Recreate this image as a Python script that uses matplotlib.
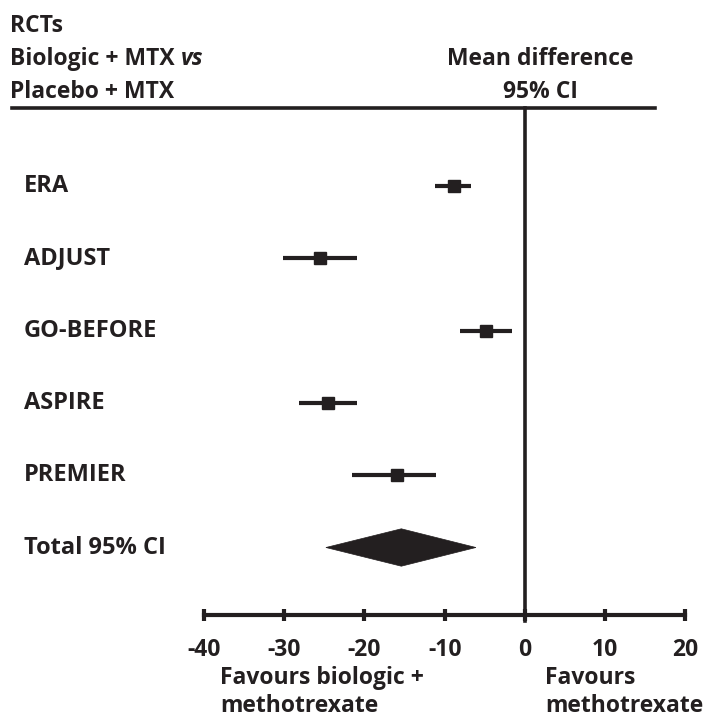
import matplotlib
matplotlib.use("Agg")
import matplotlib.pyplot as plt
from matplotlib.lines import Line2D
from matplotlib.patches import Polygon

# ---- data ----
studies = ["ERA", "ADJUST", "GO-BEFORE", "ASPIRE", "PREMIER"]
mean_diff = [-8.8, -25.5, -4.8, -24.5, -16.0]
ci_low = [-11.2, -30.1, -8.1, -28.2, -21.5]
ci_high = [-6.7, -20.9, -1.6, -20.9, -11.1]
total_label = "Total 95% CI"
total_mean = -15.4
total_low = -24.8
total_high = -6.1
xticks = [-40, -30, -20, -10, 0, 10, 20]

W, H = 703, 720
FONT = "Open Sans"
FS = 16.5
COL = "#231f20"

fig = plt.figure(figsize=(W / 100, H / 100), dpi=100)
fig.patch.set_facecolor("white")

def fy(px):
    return 1 - px / H

def fx(px):
    return px / W

ax_top, ax_bot = 108, 615
ax = fig.add_axes([0, fy(ax_bot), 1, fy(ax_top) - fy(ax_bot)])
ppu = (685.3 - 204) / 60.0
x_left = -40 - 204 / ppu
x_right = x_left + W / ppu
ax.set_xlim(x_left, x_right)
row0, rowsp = 186, 72.3
ax.set_ylim((ax_bot - row0) / rowsp, (ax_top - row0) / rowsp)

for s in ["top", "right", "left"]:
    ax.spines[s].set_visible(False)
ax.spines["bottom"].set_bounds(xticks[0], xticks[-1])
ax.spines["bottom"].set_linewidth(3)
ax.spines["bottom"].set_color(COL)
ax.set_yticks([])
ax.set_xticks(xticks)
ax.set_xticklabels([str(t) for t in xticks])
ax.tick_params(axis="x", direction="inout", length=9, width=3, color=COL,
               pad=12, labelsize=FS, labelcolor=COL)
for lab in ax.get_xticklabels():
    lab.set_fontfamily(FONT)
    lab.set_fontweight("bold")

rows = list(range(len(studies)))
xerr = [[m - l for m, l in zip(mean_diff, ci_low)],
        [h - m for m, h in zip(mean_diff, ci_high)]]
ax.errorbar(mean_diff, rows, xerr=xerr, fmt="s", color=COL, ecolor=COL,
            elinewidth=3, markersize=9, capsize=0, zorder=3)

trow = len(studies)
hh = 18.7 / rowsp
ax.add_patch(Polygon([(total_low, trow), (total_mean, trow - hh),
                      (total_high, trow), (total_mean, trow + hh)],
                     closed=True, facecolor=COL, edgecolor=COL, lw=0.5, zorder=3))

ax.plot([0, 0], [(ax_top - row0) / rowsp, (621 - row0) / rowsp], color=COL,
        lw=2.6, clip_on=False, zorder=4)

for i, name in enumerate(studies + [total_label]):
    ax.text(x_left + 24 / ppu, i, name, ha="left", va="center",
            fontsize=FS + 0.5, fontweight="bold", family=FONT, color=COL)

fig.add_artist(Line2D([fx(12), fx(655)], [fy(108), fy(108)], color=COL,
                      lw=2.6, transform=fig.transFigure))

kw = dict(fontsize=FS, fontweight="bold", family=FONT, color=COL, va="center")
fig.text(fx(10), fy(26), "RCTs", ha="left", **kw)
t1 = fig.text(fx(10), fy(59), "Biologic + MTX ", ha="left", **kw)
fig.text(fx(10), fy(92), "Placebo + MTX", ha="left", **kw)
fig.canvas.draw()
bb = t1.get_window_extent()
fig.text(bb.x1 / W, fy(59), "vs", ha="left", style="italic", **kw)
fig.text(fx(540), fy(59), "Mean difference", ha="center", **kw)
fig.text(fx(540), fy(92), "95% CI", ha="center", **kw)

fig.text(fx(220), fy(678), "Favours biologic +", ha="left", **kw)
fig.text(fx(220), fy(706), "methotrexate", ha="left", **kw)
fig.text(fx(545), fy(678), "Favours", ha="left", **kw)
fig.text(fx(545), fy(706), "methotrexate", ha="left", **kw)

fig.savefig("out.png", dpi=100, facecolor="white")
